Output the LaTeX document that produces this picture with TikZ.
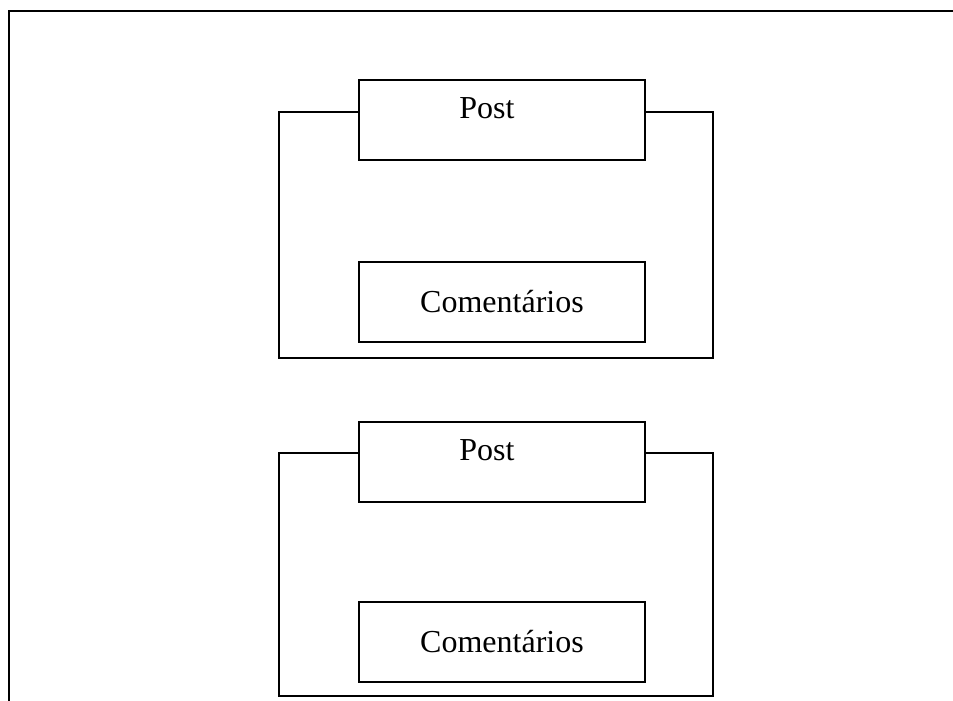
\documentclass[tikz,border=0pt]{standalone}
\usepackage{fontspec}
\setmainfont{Liberation Serif}
\usetikzlibrary{positioning}
\begin{document}
\begin{tikzpicture}[x=1pt,y=-1pt]
            \tikzstyle{every node}+=[inner sep=0pt]
            \tikzstyle{box}=[draw=black, line width=2pt, minimum width=286pt, minimum height=80pt]
            \tikzstyle{txt}=[font=\fontsize{32}{38}\selectfont]
            \useasboundingbox (0,0) rectangle (953,701);
            % outer frame
            \draw [black, line width=2.2pt] (9,701) -- (9,11) -- (953,11);
            % first block
            \node [box] (post1) at (502,120) {};
            \node [txt] (postlbl1) at ([xshift=-15pt,yshift=12pt]post1.center) {Post};
            \node [box] (coment1) at (502,301.5) {};
            \node [txt] at (coment1.center) {Comentários};
            \coordinate (frame1sw) at (279,358);
            \coordinate (frame1ne) at (713,112);
            \draw [black, line width=2pt] ([yshift=8pt]post1.west) -| (frame1sw) -| (frame1ne) -- ([yshift=8pt]post1.east);
            % second block
            \node [box] (post2) at (502,462) {};
            \node [txt] (postlbl2) at ([xshift=-15pt,yshift=12pt]post2.center) {Post};
            \node [box] (coment2) at (502,642) {};
            \node [txt] at (coment2.center) {Comentários};
            \coordinate (frame2sw) at (279,696);
            \coordinate (frame2ne) at (713,453);
            \draw [black, line width=2pt] ([yshift=9pt]post2.west) -| (frame2sw) -| (frame2ne) -- ([yshift=9pt]post2.east);
        \end{tikzpicture}
\end{document}
